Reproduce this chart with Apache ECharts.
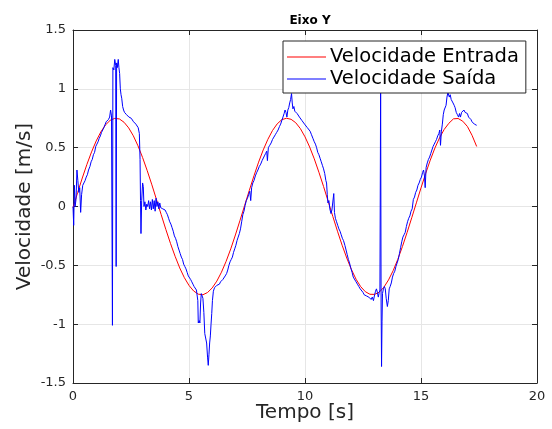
<!DOCTYPE html>
<html>
<head>
<meta charset="utf-8">
<script src="https://cdn.jsdelivr.net/npm/echarts@6/dist/echarts.min.js"></script>
<style>
  html, body { margin: 0; padding: 0; background: #ffffff; }
  #chart { width: 552px; height: 429px; }
</style>
</head>
<body>
<div id="chart"></div>
<script>
// Velocidade de entrada (referência), amostrada a cada 0,2 s
const tempoEntrada = [
  0.0, 0.2, 0.4, 0.6, 0.8, 1.0, 1.2, 1.4, 1.6, 1.8,
  2.0, 2.2, 2.4, 2.6, 2.8, 3.0, 3.2, 3.4, 3.6, 3.8,
  4.0, 4.2, 4.4, 4.6, 4.8, 5.0, 5.2, 5.4, 5.6, 5.8,
  6.0, 6.2, 6.4, 6.6, 6.8, 7.0, 7.2, 7.4, 7.6, 7.8,
  8.0, 8.2, 8.4, 8.6, 8.8, 9.0, 9.2, 9.4, 9.6, 9.8,
  10.0, 10.2, 10.4, 10.6, 10.8, 11.0, 11.2, 11.4, 11.6, 11.8,
  12.0, 12.2, 12.4, 12.6, 12.8, 13.0, 13.2, 13.4, 13.6, 13.8,
  14.0, 14.2, 14.4, 14.6, 14.8, 15.0, 15.2, 15.4, 15.6, 15.8,
  16.0, 16.2, 16.4, 16.6, 16.8, 17.0, 17.2, 17.4
];
const velEntrada = [
  -0.010, 0.118, 0.242, 0.358, 0.464, 0.557, 0.634, 0.693, 0.732, 0.749,
  0.744, 0.716, 0.668, 0.601, 0.516, 0.416, 0.304, 0.184, 0.058, -0.069,
  -0.194, -0.313, -0.423, -0.522, -0.605, -0.671, -0.718, -0.745, -0.750, -0.731,
  -0.692, -0.634, -0.558, -0.466, -0.360, -0.242, -0.117, 0.010, 0.137, 0.261,
  0.377, 0.481, 0.571, 0.646, 0.702, 0.738, 0.750, 0.741, 0.712, 0.662,
  0.592, 0.506, 0.405, 0.291, 0.170, 0.043, -0.085, -0.210, -0.329, -0.438,
  -0.535, -0.618, -0.681, -0.724, -0.746, -0.747, -0.728, -0.686, -0.624, -0.545,
  -0.449, -0.340, -0.221, -0.096, 0.031, 0.158, 0.280, 0.394, 0.497, 0.584,
  0.655, 0.707, 0.745, 0.748, 0.725, 0.680, 0.605, 0.510
];

// Velocidade de saída medida
const tempoSaida = [
  0.00, 0.03, 0.06, 0.09, 0.13, 0.17, 0.21, 0.25, 0.29, 0.33,
  0.37, 0.42, 0.47, 0.52, 0.57, 0.62, 0.67, 0.73, 0.78, 0.83,
  0.88, 0.93, 0.98, 1.03, 1.08, 1.13, 1.18, 1.23, 1.28, 1.33,
  1.38, 1.43, 1.48, 1.53, 1.58, 1.62, 1.66, 1.70, 1.72, 1.76,
  1.80, 1.84, 1.86, 1.88, 1.91, 1.95, 1.98, 2.01, 2.04, 2.07,
  2.10, 2.14, 2.18, 2.22, 2.27, 2.31, 2.36, 2.41, 2.46, 2.51,
  2.56, 2.61, 2.66, 2.71, 2.76, 2.81, 2.86, 2.89, 2.91, 2.93,
  2.96, 3.00, 3.03, 3.06, 3.10, 3.14, 3.18, 3.22, 3.26, 3.30,
  3.34, 3.38, 3.42, 3.46, 3.50, 3.54, 3.58, 3.62, 3.66, 3.70,
  3.74, 3.78, 3.82, 3.87, 3.92, 3.97, 4.02, 4.07, 4.12, 4.17,
  4.22, 4.27, 4.32, 4.37, 4.42, 4.47, 4.52, 4.57, 4.62, 4.67,
  4.72, 4.77, 4.82, 4.87, 4.92, 4.97, 5.02, 5.07, 5.12, 5.17,
  5.22, 5.27, 5.32, 5.36, 5.38, 5.40, 5.44, 5.47, 5.50, 5.53,
  5.56, 5.60, 5.64, 5.68, 5.72, 5.76, 5.80, 5.83, 5.86, 5.89,
  5.92, 5.95, 5.98, 6.01, 6.05, 6.10, 6.15, 6.20, 6.25, 6.31,
  6.36, 6.41, 6.46, 6.51, 6.56, 6.62, 6.67, 6.72, 6.77, 6.82,
  6.87, 6.92, 6.97, 7.02, 7.07, 7.12, 7.17, 7.22, 7.27, 7.32,
  7.37, 7.42, 7.47, 7.52, 7.57, 7.62, 7.66, 7.70, 7.75, 7.80,
  7.86, 7.92, 7.97, 8.03, 8.09, 8.15, 8.20, 8.25, 8.30, 8.35,
  8.38, 8.42, 8.48, 8.54, 8.60, 8.66, 8.72, 8.78, 8.84, 8.90,
  8.95, 9.00, 9.05, 9.10, 9.14, 9.18, 9.22, 9.26, 9.30, 9.34,
  9.38, 9.42, 9.45, 9.48, 9.52, 9.56, 9.61, 9.66, 9.71, 9.76,
  9.82, 9.87, 9.93, 9.98, 10.04, 10.10, 10.16, 10.22, 10.28, 10.34,
  10.40, 10.45, 10.50, 10.55, 10.60, 10.65, 10.70, 10.75, 10.80, 10.85,
  10.90, 10.93, 10.96, 10.99, 11.03, 11.07, 11.12, 11.16, 11.20, 11.24,
  11.27, 11.31, 11.36, 11.41, 11.46, 11.51, 11.56, 11.61, 11.66, 11.72,
  11.77, 11.82, 11.87, 11.92, 11.97, 12.03, 12.08, 12.14, 12.20, 12.26,
  12.32, 12.38, 12.44, 12.50, 12.55, 12.60, 12.65, 12.70, 12.75, 12.80,
  12.85, 12.90, 12.95, 13.00, 13.04, 13.08, 13.12, 13.16, 13.20, 13.23,
  13.26, 13.28, 13.30, 13.32, 13.34, 13.38, 13.42, 13.46, 13.50, 13.55,
  13.59, 13.63, 13.67, 13.72, 13.77, 13.82, 13.87, 13.92, 13.97, 14.02,
  14.07, 14.12, 14.17, 14.22, 14.27, 14.32, 14.37, 14.42, 14.47, 14.52,
  14.57, 14.62, 14.67, 14.72, 14.77, 14.82, 14.87, 14.92, 14.97, 15.02,
  15.07, 15.11, 15.15, 15.18, 15.22, 15.27, 15.32, 15.37, 15.42, 15.47,
  15.52, 15.57, 15.62, 15.67, 15.72, 15.77, 15.81, 15.84, 15.88, 15.92,
  15.96, 16.00, 16.04, 16.08, 16.12, 16.16, 16.19, 16.22, 16.26, 16.30,
  16.34, 16.38, 16.43, 16.47, 16.52, 16.57, 16.62, 16.66, 16.70, 16.75,
  16.80, 16.85, 16.90, 16.95, 17.00, 17.05, 17.10, 17.15, 17.20, 17.25,
  17.30, 17.35, 17.40, 17.43
];
const velSaida = [
  0.00, -0.16, 0.18, 0.00, 0.06, 0.31, 0.22, 0.12, 0.16, -0.05,
  0.10, 0.18, 0.20, 0.22, 0.25, 0.27, 0.31, 0.34, 0.38, 0.40,
  0.44, 0.46, 0.51, 0.53, 0.55, 0.58, 0.60, 0.63, 0.65, 0.67,
  0.68, 0.72, 0.71, 0.74, 0.76, 0.82, 0.77, -1.01, 1.18, 1.16,
  1.25, 1.20, -0.51, 1.22, 1.18, 1.25, 1.18, 1.13, 1.00, 0.95,
  0.92, 0.85, 0.82, 0.80, 0.80, 0.78, 0.79, 0.76, 0.77, 0.75,
  0.74, 0.72, 0.71, 0.70, 0.69, 0.67, 0.62, 0.40, 0.05, -0.23,
  0.05, 0.20, 0.17, 0.00, 0.04, -0.03, 0.02, 0.00, 0.05, -0.02,
  0.04, -0.03, 0.06, -0.02, 0.05, -0.04, 0.07, 0.00, 0.04, -0.02,
  0.03, -0.01, -0.01, -0.02, -0.02, -0.03, -0.05, -0.07, -0.10, -0.13,
  -0.15, -0.18, -0.21, -0.25, -0.27, -0.30, -0.34, -0.37, -0.40, -0.43,
  -0.45, -0.49, -0.51, -0.53, -0.56, -0.59, -0.60, -0.62, -0.64, -0.66,
  -0.68, -0.69, -0.71, -0.72, -0.80, -0.99, -0.97, -0.99, -0.82, -0.74,
  -0.74, -0.78, -0.90, -1.08, -1.09, -1.16, -1.28, -1.35, -1.26, -1.16,
  -1.10, -1.00, -0.91, -0.80, -0.72, -0.69, -0.68, -0.67, -0.66, -0.66,
  -0.64, -0.63, -0.62, -0.61, -0.59, -0.57, -0.54, -0.50, -0.47, -0.45,
  -0.43, -0.39, -0.36, -0.33, -0.29, -0.26, -0.23, -0.19, -0.13, -0.07,
  -0.04, 0.01, 0.05, 0.07, 0.10, 0.13, 0.05, 0.16, 0.20, 0.22,
  0.26, 0.29, 0.31, 0.34, 0.36, 0.39, 0.40, 0.43, 0.45, 0.47,
  0.39, 0.50, 0.52, 0.54, 0.57, 0.59, 0.61, 0.63, 0.65, 0.68,
  0.70, 0.71, 0.76, 0.79, 0.82, 0.80, 0.76, 0.82, 0.84, 0.88,
  0.91, 0.96, 0.88, 0.83, 0.85, 0.81, 0.82, 0.79, 0.80, 0.76,
  0.77, 0.73, 0.72, 0.70, 0.69, 0.67, 0.66, 0.64, 0.61, 0.58,
  0.55, 0.53, 0.50, 0.46, 0.44, 0.41, 0.38, 0.35, 0.32, 0.28,
  0.22, 0.20, 0.10, 0.03, 0.05, -0.02, -0.06, -0.03, -0.02, 0.11,
  -0.05, -0.10, -0.13, -0.16, -0.19, -0.21, -0.24, -0.27, -0.29, -0.33,
  -0.37, -0.41, -0.45, -0.48, -0.52, -0.56, -0.60, -0.61, -0.64, -0.66,
  -0.68, -0.70, -0.71, -0.73, -0.75, -0.74, -0.76, -0.75, -0.77, -0.76,
  -0.79, -0.77, -0.80, -0.75, -0.72, -0.70, -0.73, -0.77, -0.73, -0.71,
  1.05, -0.82, -1.36, -0.98, -0.74, -0.70, -0.68, -0.70, -0.78, -0.85,
  -0.80, -0.70, -0.68, -0.65, -0.60, -0.57, -0.55, -0.51, -0.48, -0.45,
  -0.40, -0.35, -0.30, -0.26, -0.24, -0.22, -0.17, -0.13, -0.10, -0.08,
  -0.04, -0.02, 0.06, 0.08, 0.12, 0.14, 0.18, 0.20, 0.23, 0.25,
  0.29, 0.31, 0.26, 0.16, 0.33, 0.37, 0.40, 0.42, 0.45, 0.48,
  0.51, 0.53, 0.55, 0.57, 0.60, 0.62, 0.65, 0.52, 0.64, 0.70,
  0.78, 0.82, 0.81, 0.86, 0.93, 0.97, 0.96, 0.93, 0.95, 0.91,
  0.91, 0.88, 0.86, 0.84, 0.80, 0.78, 0.76, 0.79, 0.76, 0.80,
  0.81, 0.82, 0.80, 0.79, 0.79, 0.76, 0.76, 0.74, 0.72, 0.72,
  0.70, 0.70, 0.69, 0.69
];

const xTicks = [0, 5, 10, 15, 20];
const yTicks = [-1.5, -1, -0.5, 0, 0.5, 1, 1.5];

const pares = (ts, vs) => ts.map((t, i) => [t, vs[i]]);

const corEixo = '#262626';
const corGrade = '#e6e6e6';
const fonte = 'DejaVu Sans';

const chart = echarts.init(document.getElementById('chart'), null, { renderer: 'canvas' });

const eixoBase = {
  axisLine: { show: true, onZero: false, lineStyle: { color: corEixo, width: 1 } },
  axisTick: { show: true, inside: true, length: 5, lineStyle: { color: corEixo } },
  axisLabel: { color: corEixo, fontFamily: fonte, fontSize: 13 },
  splitLine: { show: true, lineStyle: { color: corGrade, width: 1 } }
};

chart.setOption({
  animation: false,
  backgroundColor: '#ffffff',
  title: {
    text: 'Eixo Y',
    left: 305,
    textAlign: 'center',
    top: 10,
    textStyle: { fontFamily: fonte, fontSize: 12, fontWeight: 'bold', color: '#000000' }
  },
  grid: { left: 73, right: 15, top: 30, bottom: 46, containLabel: false, outerBoundsMode: 'none' },
  legend: {
    data: [
      { name: 'Velocidade Entrada', icon: 'rect' },
      { name: 'Velocidade Saída', icon: 'rect' }
    ],
    orient: 'vertical',
    left: 283,
    top: 41,
    itemWidth: 39,
    itemHeight: 1,
    itemGap: 2,
    padding: [6, 7, 4, 4],
    backgroundColor: '#ffffff',
    borderColor: corEixo,
    borderWidth: 1,
    borderRadius: 0,
    z: 10,
    selectedMode: false,
    textStyle: { fontFamily: fonte, fontSize: 19.5, color: '#000000', padding: [0, 0, 0, -1] }
  },
  xAxis: [
    Object.assign({}, eixoBase, {
      type: 'value', min: 0, max: 20, interval: 5,
      axisLabel: Object.assign({}, eixoBase.axisLabel, { margin: 7 }),
      name: 'Tempo [s]', nameLocation: 'middle', nameGap: 20, nameMoveOverlap: false,
      nameTextStyle: { fontFamily: fonte, fontSize: 20, color: corEixo }
    }),
    {
      type: 'value', position: 'top', min: 0, max: 20, interval: 5,
      axisLine: { show: true, onZero: false, lineStyle: { color: corEixo, width: 1 } },
      axisTick: { show: true, inside: true, length: 5, lineStyle: { color: corEixo } },
      axisLabel: { show: false }, splitLine: { show: false }
    }
  ],
  yAxis: [
    Object.assign({}, eixoBase, {
      type: 'value', min: -1.5, max: 1.5, interval: 0.5,
      axisLabel: Object.assign({}, eixoBase.axisLabel, { margin: 7 }),
      name: 'Velocidade [m/s]', nameLocation: 'middle', nameGap: 38, nameMoveOverlap: false,
      nameTextStyle: { fontFamily: fonte, fontSize: 20, color: corEixo }
    }),
    {
      type: 'value', position: 'right', min: -1.5, max: 1.5, interval: 0.5,
      axisLine: { show: true, onZero: false, lineStyle: { color: corEixo, width: 1 } },
      axisTick: { show: true, inside: true, length: 5, lineStyle: { color: corEixo } },
      axisLabel: { show: false }, splitLine: { show: false }
    }
  ],
  series: [
    {
      name: 'Velocidade Entrada',
      type: 'line',
      data: pares(tempoEntrada, velEntrada),
      showSymbol: false,
      symbol: 'none',
      itemStyle: { color: '#ff0000' },
      lineStyle: { color: '#ff0000', width: 1 },
      z: 2
    },
    {
      name: 'Velocidade Saída',
      type: 'line',
      data: pares(tempoSaida, velSaida),
      showSymbol: false,
      symbol: 'none',
      itemStyle: { color: '#0000ff' },
      lineStyle: { color: '#0000ff', width: 1 },
      z: 3
    }
  ]
});
</script>
</body>
</html>
